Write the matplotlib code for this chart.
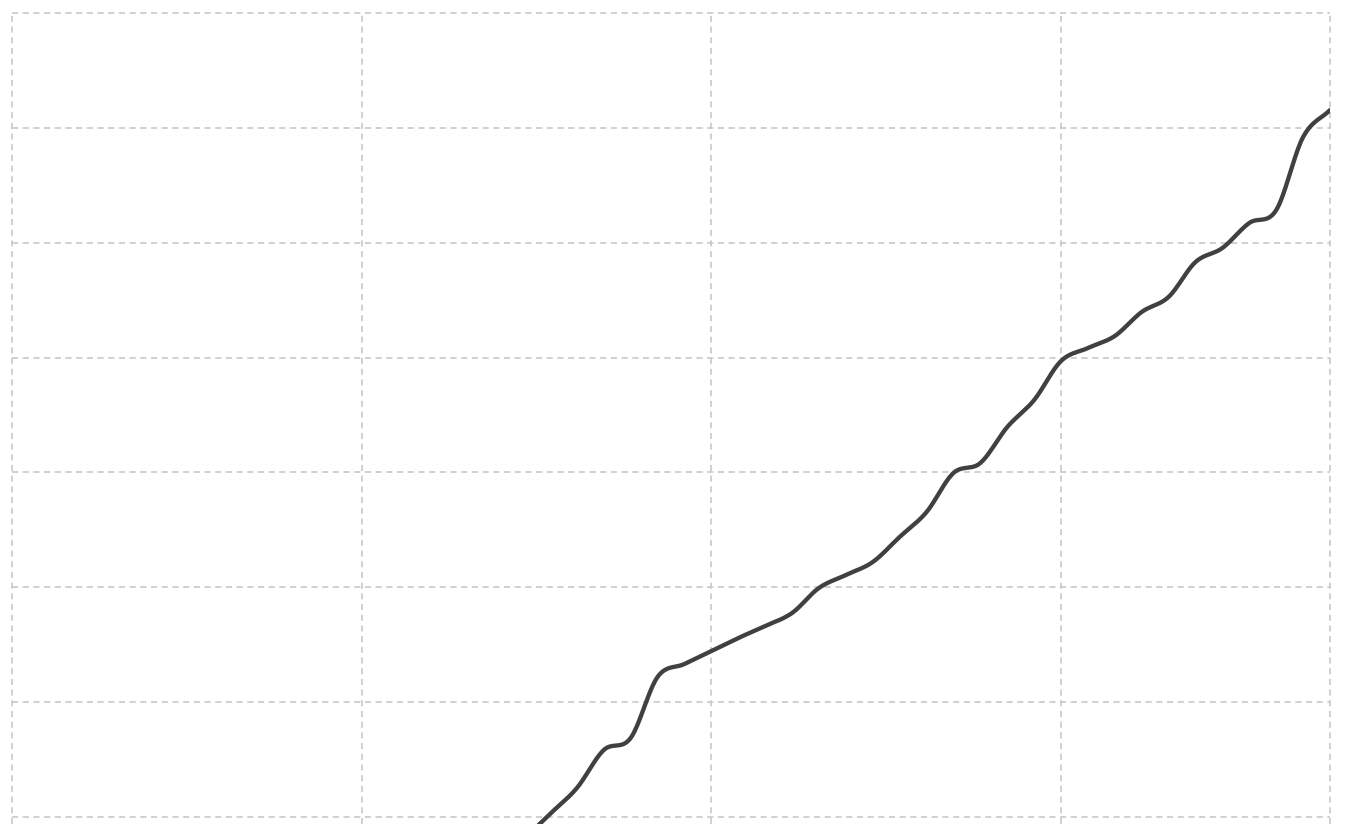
"""Smoothed cumulative line over a dashed grid (axes clipped at the bottom)."""

import numpy as np
from matplotlib import pyplot as plt

# index of each sample along the x axis
steps = list(range(19, 50))
# series values (10 units per grid row)
values = [
    -2.0, 0.26, 2.52, 5.83, 6.88, 12.19, 13.32, 14.45, 15.58, 16.63,
    17.76, 19.94, 21.07, 22.20, 24.38, 26.55, 29.95, 30.82, 33.95, 36.30,
    39.70, 40.83, 41.88, 43.97, 45.28, 48.32, 49.54, 51.72, 52.84, 59.20,
    61.55,
]
x_ticks = [0, 13, 26, 39, 49]
y_ticks = [0, 10, 20, 30, 40, 50, 60, 70]


def catmull_rom(xs, ys, samples=20):
    """Smooth path through the points, like a cardinal spline renderer."""
    pts = np.column_stack([xs, ys]).astype(float)
    padded = np.vstack([2 * pts[0] - pts[1], pts, 2 * pts[-1] - pts[-2]])
    out = []
    t = np.linspace(0, 1, samples, endpoint=False)[:, None]
    for k in range(1, len(padded) - 2):
        p0, p1, p2, p3 = padded[k - 1], padded[k], padded[k + 1], padded[k + 2]
        seg = 0.5 * (
            2 * p1
            + (-p0 + p2) * t
            + (2 * p0 - 5 * p1 + 4 * p2 - p3) * t**2
            + (-p0 + 3 * p1 - 3 * p2 + p3) * t**3
        )
        out.append(seg)
    out.append(pts[-1:])
    path = np.vstack(out)
    return path[:, 0], path[:, 1]


fig = plt.figure(figsize=(13.56, 8.24), dpi=100)
ax = fig.add_axes([12 / 1356, 0, (1330 - 12) / 1356, (824 - 13) / 824])

ax.set_xlim(0, 49)
ax.set_ylim(-0.61, 70)
ax.set_xticks(x_ticks)
ax.set_yticks(y_ticks)
ax.tick_params(length=0, labelbottom=False, labelleft=False)
for spine in ax.spines.values():
    spine.set_visible(False)

ax.grid(True, color="#c4c4c4", linewidth=1.1, linestyle=(0, (4, 3)))
ax.set_axisbelow(True)
# edge grid lines would otherwise be cut in half by the axes box
for line in ax.get_xgridlines() + ax.get_ygridlines():
    line.set_clip_on(False)

sx, sy = catmull_rom(steps, values)
ax.plot(sx, sy, color="#404040", linewidth=3.1, solid_capstyle="round",
        solid_joinstyle="round", clip_on=True)

fig.savefig("out.png", dpi=100)
